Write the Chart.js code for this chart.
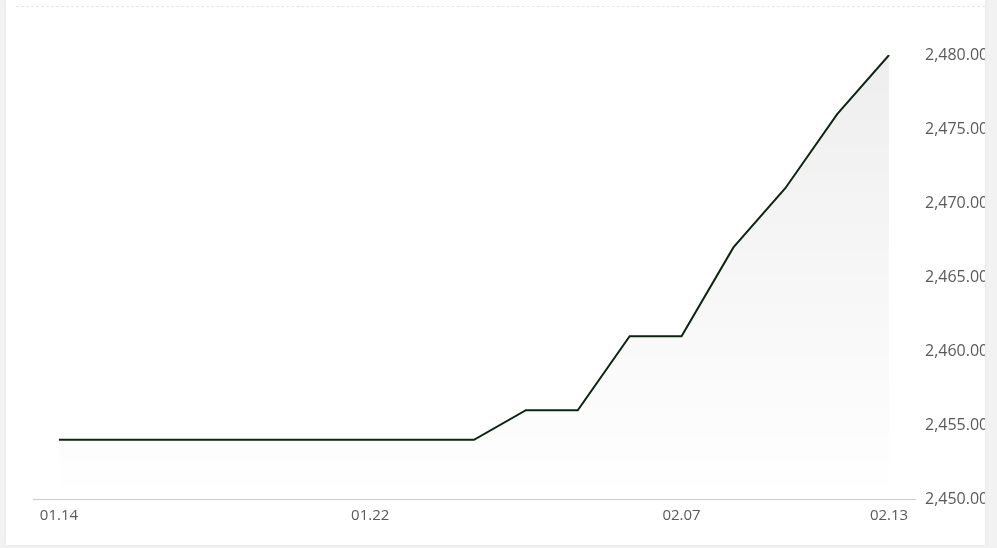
<!DOCTYPE html>
<html>
<head>
<meta charset="utf-8">
<script src="https://cdn.jsdelivr.net/npm/chart.js@4"></script>
<style>
  html, body { margin: 0; padding: 0; background: #f2f2f2; }
  #card {
    position: absolute; left: 6px; top: 0; width: 979px; height: 545px;
    background: #fff; overflow: hidden;
    box-shadow: 0 0 4px rgba(0,0,0,0.06);
  }
  #topline {
    position: absolute; left: 10px; right: 0; top: 6px;
    border-top: 1px dashed #e6e6e6;
  }
  #wrap { position: absolute; left: -6px; top: 0; width: 997px; height: 548px; }
</style>
</head>
<body>
<div id="card">
  <div id="topline"></div>
  <div id="wrap"><canvas id="chart"></canvas></div>
</div>
<script>
const dates = ['01.14', '01.15', '01.16', '01.17', '01.20', '01.21', '01.22', '01.23', '01.24',
  '01.27', '02.05', '02.06', '02.07', '02.10', '02.11', '02.12', '02.13'];
const prices = [2454, 2454, 2454, 2454, 2454, 2454, 2454, 2454, 2454,
  2456, 2456, 2461, 2461, 2467, 2471, 2476, 2480];
const shownDates = ['01.14', '01.22', '02.07', '02.13'];
const yMin = 2450;
const yMax = 2480;
const yStep = 5;

const ctx = document.getElementById('chart').getContext('2d');
const chart = new Chart(ctx, {
  type: 'line',
  data: {
    labels: dates,
    datasets: [{
      data: prices,
      borderColor: '#0e2412',
      borderWidth: 2,
      pointRadius: 0,
      tension: 0,
      fill: 'start',
      backgroundColor: function (context) {
        const area = context.chart.chartArea;
        if (!area) return 'rgba(0,0,0,0)';
        const g = context.chart.ctx.createLinearGradient(0, area.top, 0, area.bottom);
        g.addColorStop(0, 'rgba(0,0,0,0.065)');
        g.addColorStop(1, 'rgba(0,0,0,0)');
        return g;
      }
    }]
  },
  options: {
    responsive: true,
    maintainAspectRatio: false,
    animation: false,
    layout: { padding: { left: 33, top: 55, right: 0, bottom: 0 } },
    plugins: { legend: { display: false }, tooltip: { enabled: false } },
    scales: {
      x: {
        offset: true,
        grid: { display: false, drawTicks: false },
        border: { display: true, color: '#cccccc', width: 1 },
        afterFit: function (scale) { scale.height = 49; },
        ticks: {
          autoSkip: false,
          maxRotation: 0,
          padding: 8,
          color: '#5a5a5a',
          font: { family: 'Open Sans', size: 15 },
          callback: function (value, index) {
            const d = dates[index];
            return shownDates.includes(d) ? d : '';
          }
        }
      },
      y: {
        position: 'right',
        min: yMin,
        max: yMax,
        grid: { display: false, drawTicks: false },
        border: { display: false },
        afterFit: function (scale) { scale.width = 82; },
        ticks: {
          stepSize: yStep,
          padding: 10,
          color: '#5a5a5a',
          font: { family: 'Open Sans', size: 16 },
          callback: function (value) {
            return value.toLocaleString('en-US', { minimumFractionDigits: 2, maximumFractionDigits: 2 });
          }
        }
      }
    }
  }
});
</script>
</body>
</html>
